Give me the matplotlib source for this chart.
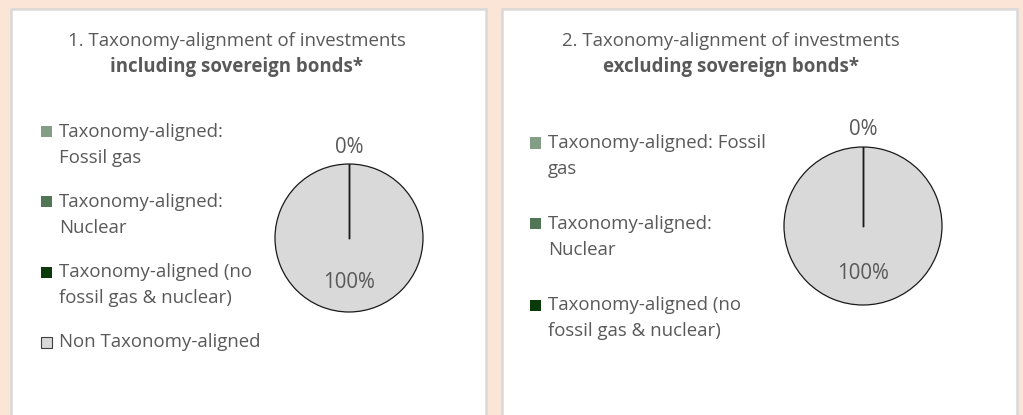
import matplotlib.pyplot as plt
from matplotlib.patches import Rectangle
import numpy as np

plt.rcParams['font.family'] = ['Open Sans', 'DejaVu Sans']

categories = ["Taxonomy-aligned: Fossil gas",
              "Taxonomy-aligned: Nuclear",
              "Taxonomy-aligned (no fossil gas & nuclear)",
              "Non Taxonomy-aligned"]
legend_left = ["Taxonomy-aligned:\nFossil gas",
               "Taxonomy-aligned:\nNuclear",
               "Taxonomy-aligned (no\nfossil gas & nuclear)",
               "Non Taxonomy-aligned"]
legend_right = ["Taxonomy-aligned: Fossil\ngas",
                "Taxonomy-aligned:\nNuclear",
                "Taxonomy-aligned (no\nfossil gas & nuclear)"]
values_incl = [0, 0, 0, 100]
values_excl = [0, 0, 0, 100]
colors = ["#839E85", "#507655", "#0A3A0A", "#D9D9D9"]
title1_a = "1. Taxonomy-alignment of investments"
title1_b = "including sovereign bonds*"
title2_a = "2. Taxonomy-alignment of investments"
title2_b = "excluding sovereign bonds*"

W, H = 1023, 415
fig = plt.figure(figsize=(W / 100, H / 100), dpi=100)
fig.patch.set_facecolor("#FBE5D6")
TXT = "#595959"
FS = 13.4
FS_PCT = 14.8

def px(x, y):
    return x / W, 1 - y / H

# panels
for (x0, x1) in [(11, 486), (502, 1017)]:
    r = Rectangle((x0 / W, -0.05), (x1 - x0) / W, (H - 9) / H + 0.05,
                  transform=fig.transFigure, facecolor="white",
                  edgecolor="#D9D9D9", linewidth=1.8, zorder=-5)
    fig.patches.append(r)

def draw_pie(cx, cy, r, values, tx, ty1, ty2, ta, tb, legend_labels, lx, ly0, lgap):
    ax = fig.add_axes([(cx - r) / W, 1 - (cy + r) / H, 2 * r / W, 2 * r / H])
    ax.set_zorder(3)
    ax.patch.set_visible(False)
    ax.pie(values, colors=colors, startangle=90, counterclock=False,
           wedgeprops=dict(edgecolor="#1a1a1a", linewidth=0.9))
    ax.set_xlim(-1, 1)
    ax.set_ylim(-1, 1)
    ax.set_aspect('auto')
    ax.axis('off')
    total = sum(values)
    ang = 90.0
    drawn = set()
    for v in values:
        span = 360.0 * v / total
        # wedge boundary line
        b = np.deg2rad(ang)
        ax.plot([0, np.cos(b)], [0, np.sin(b)], color="#1a1a1a", lw=0.9)
        mid = np.deg2rad(ang - span / 2)
        d = 1.22 if v == 0 else 0.6
        key = (round(ang - span / 2, 3), v)
        if key not in drawn:
            drawn.add(key)
            ax.text(d * np.cos(mid), d * np.sin(mid), f"{v / total * 100:.0f}%",
                    ha='center', va='center', fontsize=FS_PCT, color=TXT,
                    clip_on=False)
        ang -= span
    fig.text(*px(tx, ty1), ta, ha='center', va='center', fontsize=FS, color=TXT)
    fig.text(*px(tx, ty2), tb, ha='center', va='center', fontsize=FS, color=TXT,
             fontweight='bold')
    for i, lab in enumerate(legend_labels):
        y = ly0 + i * lgap
        fig.patches.append(Rectangle((lx / W, 1 - (y + 5.5) / H), 11 / W, 11 / H,
                                     transform=fig.transFigure, facecolor=colors[i],
                                     edgecolor="#404040" if i == 3 else "none",
                                     linewidth=0.8, zorder=2))
        for k, line in enumerate(lab.split("\n")):
            fig.text((lx + 18) / W, 1 - (y + 25.5 * k) / H, line, ha='left',
                     va='center', fontsize=FS, color=TXT)

draw_pie(349, 238, 74, values_incl, 237, 41, 67, title1_a, title1_b,
         legend_left, 41, 132, 70)
draw_pie(863, 226, 79, values_excl, 731, 41, 67, title2_a, title2_b,
         legend_right, 530, 143, 81)

fig.savefig("out.png", dpi=100, facecolor=fig.get_facecolor())
